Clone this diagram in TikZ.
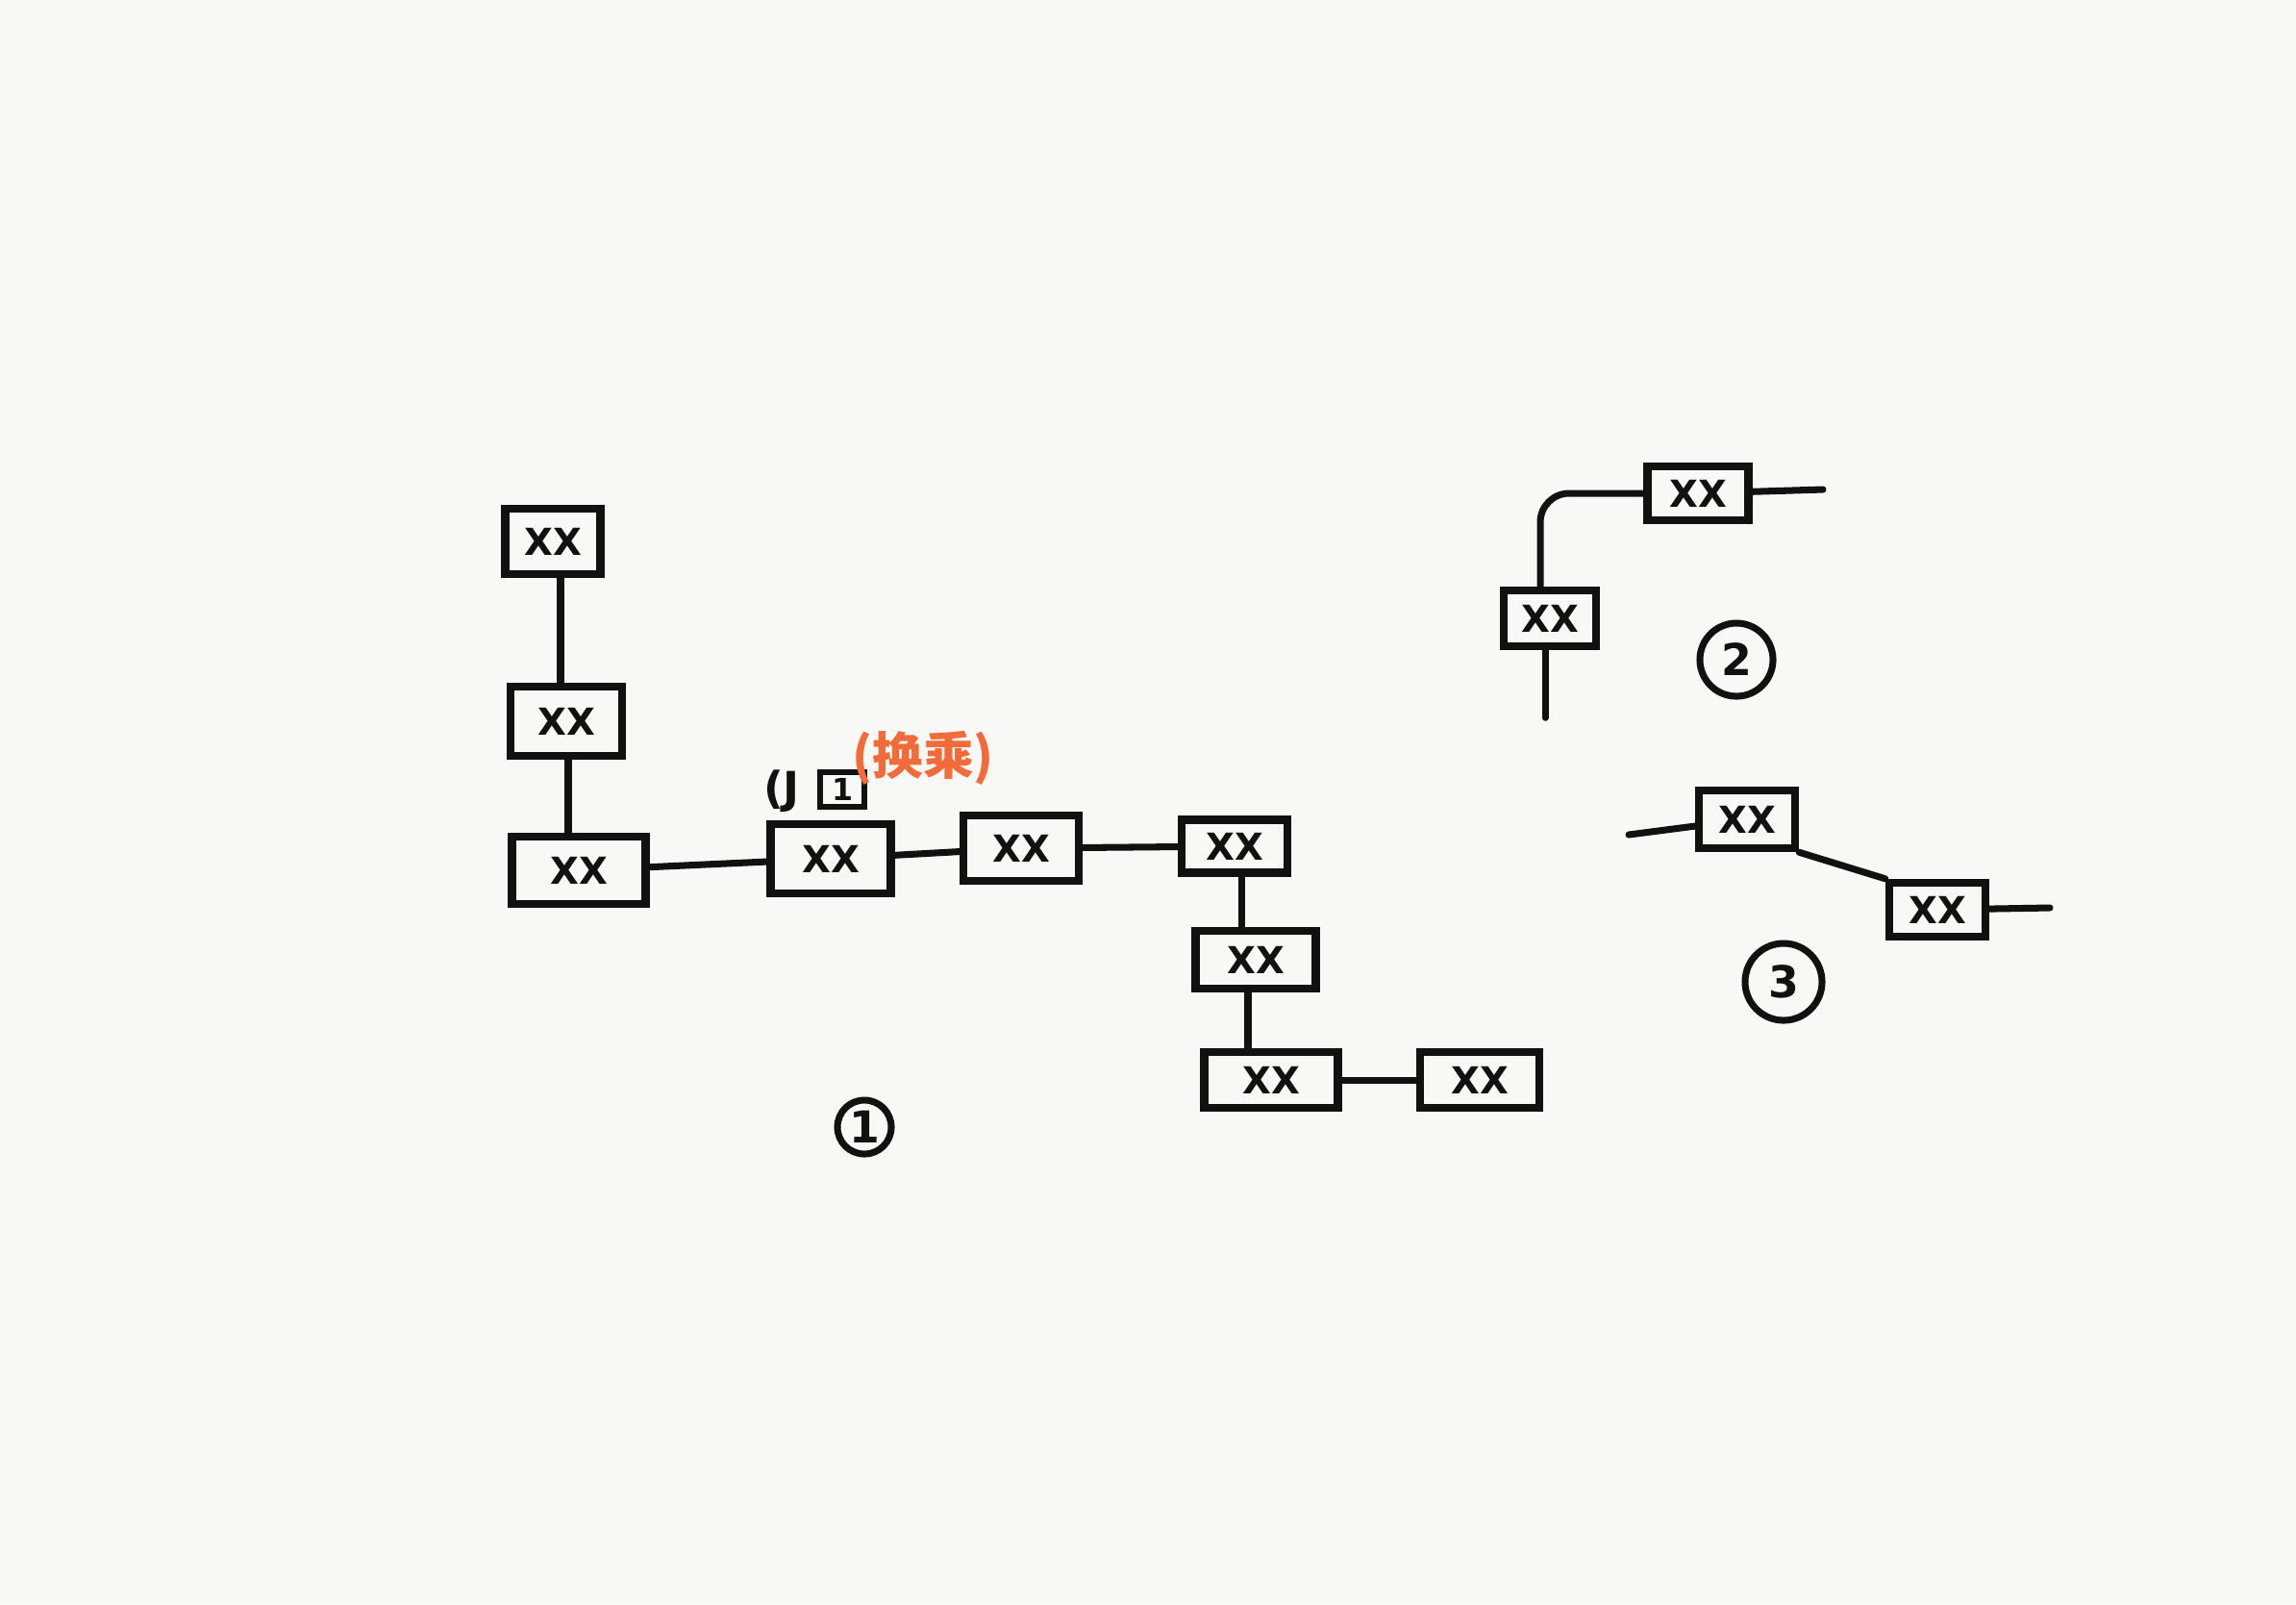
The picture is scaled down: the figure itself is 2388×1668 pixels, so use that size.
\documentclass[tikz,border=0pt]{standalone}
\usepackage{fontspec}
\setsansfont{DejaVu Sans}
\newfontfamily\cjk{Noto Sans CJK SC}
\definecolor{paper}{HTML}{F8F8F7}
\definecolor{ink}{HTML}{111111}
\definecolor{accent}{HTML}{F26B3A}
\begin{document}
\begin{tikzpicture}[x=0.01cm,y=-0.01cm,
  box/.style={draw=ink,line width=2.4pt,minimum width=#1,inner sep=0pt,
    font=\sffamily\bfseries\fontsize{11}{13}\selectfont,text=ink},
  box/.default=1.1cm,
  link/.style={draw=ink,line width=2pt,line cap=round},
  num/.style={draw=ink,circle,line width=2pt,inner sep=1pt,minimum size=#1,
    font=\sffamily\bfseries\fontsize{13}{15}\selectfont,text=ink},
  num/.default=0.58cm]
\fill[paper] (0,0) rectangle (2388,1668);
\useasboundingbox (0,0) rectangle (2388,1668);
% section 1
\node[box=0.99cm,minimum height=0.68cm] (A) at (575,563) {XX};
\node[box=1.16cm,minimum height=0.72cm] (B) at (589,750) {XX};
\node[box=1.39cm,minimum height=0.70cm] (C) at (602,905) {XX};
\node[box=1.25cm,minimum height=0.72cm] (D) at (864,893) {XX};
\node[box=1.20cm,minimum height=0.68cm] (E) at (1062,882) {XX};
\node[box=1.10cm,minimum height=0.55cm] (F) at (1284,880) {XX};
\node[box=1.25cm,minimum height=0.60cm] (G) at (1306,998) {XX};
\node[box=1.39cm,minimum height=0.58cm] (H) at (1322,1123) {XX};
\node[box=1.24cm,minimum height=0.58cm] (I) at (1539,1123) {XX};
\draw[link] ([xshift=0.08cm]A.south) -- ([xshift=0.08cm]A.south |- B.north);
\draw[link] ([xshift=0.02cm]B.south) -- ([xshift=0.02cm]B.south |- C.north);
\draw[link] (C) -- (D);
\draw[link] (D) -- (E);
\draw[link] (E) -- (F);
\draw[link] ([xshift=0.07cm]F.south) -- ([xshift=0.07cm]F.south |- G.north);
\draw[link] ([xshift=-0.08cm]G.south) -- ([xshift=-0.08cm]G.south |- H.north);
\draw[link] (H) -- (I);
\node[font=\sffamily\bfseries\fontsize{13}{15}\selectfont,text=ink] (lj) at (813,823) {(J};
\node[draw=ink,line width=1.8pt,minimum width=0.46cm,minimum height=0.36cm,inner sep=0pt,
  font=\sffamily\bfseries\fontsize{9}{10}\selectfont,text=ink] (l1) at (876,821) {1};
\node[font=\cjk\bfseries\fontsize{15}{17}\selectfont,text=accent] (hc) at (960,788) {(换乘)};
\node[num=0.56cm] (n1) at (899,1172) {1};
% section 2
\node[box=1.05cm,minimum height=0.56cm] (J) at (1766,513) {XX};
\node[box=0.96cm,minimum height=0.58cm] (K) at (1612,643) {XX};
\coordinate (Jr) at (1896,509);
\coordinate (Kb) at ([xshift=-0.05cm,yshift=-0.7cm]K.south);
\draw[link,rounded corners=0.3cm] ([xshift=-0.1cm]K.north) |- (J.west);
\draw[link] (J) -- (Jr);
\draw[link] ([xshift=-0.05cm]K.south) -- (Kb);
\node[num=0.76cm] (n2) at (1806,686) {2};
% section 3
\node[box=1.00cm,minimum height=0.60cm] (L) at (1817,852) {XX};
\node[box=1.00cm,minimum height=0.56cm] (M) at (2015,946) {XX};
\coordinate (Ll) at (1694,868);
\coordinate (Mr) at (2132,944);
\draw[link] (Ll) -- (L);
\draw[link] (L.south east) -- (M.north west);
\draw[link] (M) -- (Mr);
\node[num=0.80cm] (n3) at (1855,1021) {3};
\end{tikzpicture}
\end{document}
